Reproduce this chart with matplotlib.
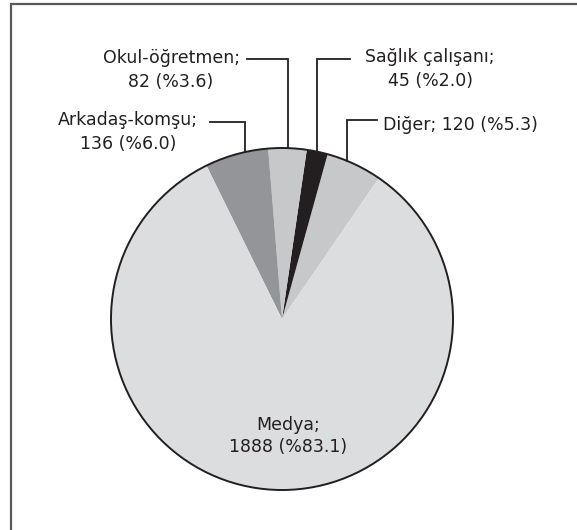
import numpy as np
import matplotlib
matplotlib.use("Agg")
import matplotlib.pyplot as plt

# slices, counter-clockwise starting from "Diğer"
labels = ["Diğer", "Sağlık çalışanı", "Okul-öğretmen", "Arkadaş-komşu", "Medya"]
counts = [120, 45, 82, 136, 1888]
percents = [5.3, 2.0, 3.6, 6.0, 83.1]
colors = ["#c7c8ca", "#231f20", "#c7c8ca", "#939598", "#dcdddf"]

W, H = 577, 530
CX, CY, R = 282, H - 319, 171
TXT = "#231f20"

fig = plt.figure(figsize=(W / 100, H / 100), dpi=100)
ax = fig.add_axes([0, 0, 1, 1])

ax.pie(counts, colors=colors, startangle=55.5, counterclock=True,
       center=(CX, CY), radius=R, frame=True,
       wedgeprops=dict(linewidth=0))
ax.add_patch(plt.Circle((CX, CY), R, fill=False, ec="#231f20", lw=1.4))
ax.set_xlim(0, W)
ax.set_ylim(0, H)
ax.set_aspect("equal")
ax.axis("off")

# outer frame (only top and left visible)
ax.plot([11, 11, W], [0, H - 4, H - 4], color="#58595b", lw=1.6,
        solid_capstyle="butt", solid_joinstyle="miter")


def edge_y(x):
    return CY + np.sqrt(R ** 2 - (x - CX) ** 2)


def leader(x_text, y_line, x_drop):
    yy = H - y_line
    ax.plot([x_text, x_drop, x_drop], [yy, yy, edge_y(x_drop)],
            color="#231f20", lw=1.3, solid_joinstyle="miter")


def label_text(i):
    return f"{labels[i]};\n{counts[i]} (%{percents[i]:.1f})"


fs = 12.5
kw = dict(color=TXT, fontsize=fs, linespacing=1.4, va="center")

# Okul-öğretmen
ax.text(171, H - 70, label_text(2), ha="center", multialignment="center", **kw)
leader(247, 59, 288)
# Sağlık çalışanı
ax.text(430, H - 69, label_text(1), ha="center", multialignment="center", **kw)
leader(350, 59, 317)
# Arkadaş-komşu
ax.text(128, H - 132, label_text(3), ha="center", multialignment="center", **kw)
leader(210, 122, 245)
# Diğer
ax.text(383, H - 125, f"{labels[0]}; {counts[0]} (%{percents[0]:.1f})",
        ha="left", **kw)
leader(377, 120, 347)
# Medya
ax.text(288, H - 436, label_text(4), ha="center", multialignment="center",
        color=TXT, fontsize=fs, linespacing=1.3, va="center")

fig.savefig("out.png", dpi=100, facecolor="white")
